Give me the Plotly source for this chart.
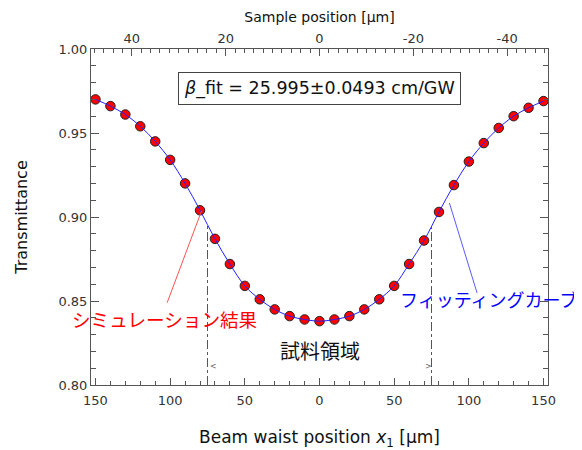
import plotly.graph_objects as go

# Data
beam_pos = [-150, -140, -130, -120, -110, -100, -90, -80, -70, -60, -50, -40, -30, -20, -10,
            0, 10, 20, 30, 40, 50, 60, 70, 80, 90, 100, 110, 120, 130, 140, 150]
transmittance = [0.970, 0.966, 0.961, 0.954, 0.945, 0.934, 0.920, 0.904, 0.887, 0.872,
                 0.859, 0.851, 0.845, 0.841, 0.839, 0.838, 0.839, 0.841, 0.845, 0.851,
                 0.859, 0.872, 0.886, 0.903, 0.919, 0.933, 0.944, 0.953, 0.960, 0.965, 0.969]
bottom_tickvals = [-150, -100, -50, 0, 50, 100, 150]
bottom_ticktext = ["150", "100", "50", "0", "50", "100", "150"]
top_tickvals = [40, 20, 0, -20, -40]
top_ticktext = ["40", "20", "0", "-20", "-40"]
region_edges = [-75, 75]
region_top = 0.895

FONT = "DejaVu Sans"
JP = "Noto Sans CJK JP"
AX = "#555555"

fig = go.Figure()
fig.add_trace(go.Scatter(x=beam_pos, y=transmittance, mode="markers",
                         marker=dict(color="#ff0000", size=9.5, line=dict(color="#222222", width=1)),
                         showlegend=False, hoverinfo="skip"))
fig.add_trace(go.Scatter(x=beam_pos, y=transmittance, mode="lines", line_shape="spline",
                         line=dict(color="#2222ff", width=1), showlegend=False, hoverinfo="skip"))
# invisible trace for top axis
fig.add_trace(go.Scatter(x=[0], y=[0.9], xaxis="x2", mode="markers", marker=dict(opacity=0),
                         showlegend=False, hoverinfo="skip"))

for xe in region_edges:
    fig.add_shape(type="line", x0=xe, x1=xe, y0=0.80, y1=region_top, xref="x", yref="y",
                  line=dict(color="#555555", width=1, dash="dashdot"))

fig.add_shape(type="line", x0=-102, y0=0.849, x1=-79, y1=0.9036, xref="x", yref="y",
              line=dict(color="#ff5050", width=1))
fig.add_shape(type="line", x0=105.5, y0=0.8548, x1=87, y1=0.9083, xref="x", yref="y",
              line=dict(color="#5a5aff", width=1))

ann = [
    dict(x=0, y=0.9764, text="<i>β</i>_fit = 25.995±0.0493 cm/GW", showarrow=False,
         font=dict(family=FONT, size=17.5, color="#111111"), bordercolor="#444444",
         borderwidth=1, borderpad=5, bgcolor="white"),
    dict(x=-103.5, y=0.8395, text="シミュレーション結果", showarrow=False,
         font=dict(family=JP, size=18.6, color="#ff0000")),
    dict(x=113, y=0.851, text="フィッティングカーブ", showarrow=False,
         font=dict(family=JP, size=18, color="#0000ff")),
    dict(x=0, y=0.8208, text="試料領域", showarrow=False,
         font=dict(family=JP, size=20, color="#111111")),
    dict(x=-71.3, y=0.8113, text="&lt;", showarrow=False,
         font=dict(family=FONT, size=8, color="#666666")),
    dict(x=72.7, y=0.8113, text="&gt;", showarrow=False,
         font=dict(family=FONT, size=8, color="#666666")),
]

fig.update_layout(
    width=574, height=442,
    margin=dict(l=83, r=34, t=41, b=65),
    plot_bgcolor="white", paper_bgcolor="white",
    annotations=ann,
    xaxis=dict(range=[-153, 153], tickvals=bottom_tickvals, ticktext=bottom_ticktext,
               ticks="inside", ticklen=7, tickcolor=AX, showline=True, linecolor=AX,
               linewidth=1, showgrid=False, zeroline=False, automargin=False,
               ticklabelstandoff=3,
               minor=dict(dtick=10, tick0=0, ticks="inside", ticklen=4, tickcolor=AX),
               tickfont=dict(family=FONT, size=13, color="#333333"),
               title=dict(text="Beam waist position <i>x</i><sub>1</sub> [μm]",
                          font=dict(family=FONT, size=17, color="#111111"), standoff=24)),
    xaxis2=dict(range=[48.7, -48.7], overlaying="x", side="top", tickvals=top_tickvals,
                ticktext=top_ticktext, ticks="inside", ticklen=7, tickcolor=AX,
                showline=True, linecolor=AX, linewidth=1, showgrid=False, zeroline=False,
                automargin=False,
                minor=dict(dtick=2, tick0=0, ticks="inside", ticklen=4, tickcolor=AX),
                tickfont=dict(family=FONT, size=13, color="#333333"),
                title=dict(text="Sample position [μm]",
                           font=dict(family=FONT, size=14, color="#111111"), standoff=4)),
    yaxis=dict(range=[0.80, 1.00], dtick=0.05, tickformat=".2f", ticks="inside",
               ticklen=8, tickcolor=AX, showline=True, linecolor=AX, linewidth=1,
               mirror="ticks", showgrid=False, zeroline=False, automargin=False,
               minor=dict(dtick=0.01, ticks="inside", ticklen=5, tickcolor=AX),
               tickfont=dict(family=FONT, size=13, color="#333333"),
               title=dict(text="Transmittance", font=dict(family=FONT, size=16, color="#111111"),
                          standoff=26)),
)

fig.write_html("out.html")
